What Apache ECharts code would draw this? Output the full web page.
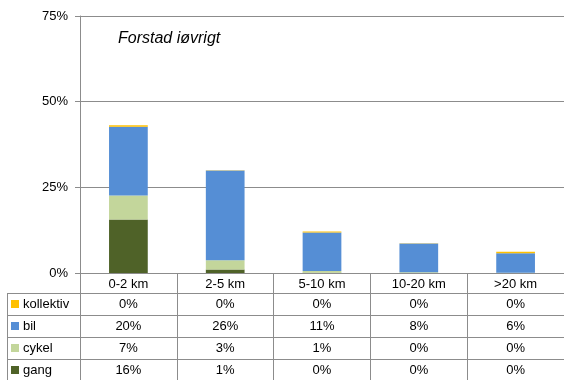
<!DOCTYPE html>
<html>
<head>
<meta charset="utf-8">
<script src="https://cdn.jsdelivr.net/npm/echarts@6/dist/echarts.min.js"></script>
<style>
  html, body { margin: 0; padding: 0; background: #fff; }
  #chart { width: 564px; height: 380px; }
</style>
</head>
<body>
<div id="chart"></div>
<script>
// Trip distance bands
const categories = ['0-2 km', '2-5 km', '5-10 km', '10-20 km', '>20 km'];

// Mode shares (percent of trips)
const gang      = [15.6, 1.0, 0.1, 0.0, 0.0];
const cykel     = [7.0, 2.7, 0.5, 0.2, 0.1];
const bil       = [20.1, 26.2, 11.2, 8.4, 5.7];
const kollektiv = [0.4, 0.1, 0.3, 0.1, 0.4];

// Value axis ticks
const yTicks = [0, 25, 50, 75];

const colors = {
  kollektiv: '#ffc000',
  bil: '#558ed5',
  cykel: '#c3d69b',
  gang: '#4f6228'
};

const FONT = 'Liberation Sans, Arial, sans-serif';
const GRID_LEFT = 80, GRID_TOP = 16, GRID_H = 257, GRID_W = 487;
const LINE = '#8c8c8c';

// Table rows below the plot, top to bottom
const tableRows = [
  { name: 'kollektiv', values: kollektiv },
  { name: 'bil', values: bil },
  { name: 'cykel', values: cykel },
  { name: 'gang', values: gang }
];
const rowOffsets = [20, 42, 64, 86];

const pct = v => Math.round(v) + '%';

const chart = echarts.init(document.getElementById('chart'), null, { renderer: 'canvas' });

const xAxes = [{
  type: 'category',
  data: categories,
  gridIndex: 0,
  position: 'bottom',
  axisLine: { show: true, lineStyle: { color: LINE, width: 1 } },
  axisTick: { show: true, interval: 0, alignWithLabel: false, length: 108, lineStyle: { color: LINE } },
  axisLabel: { interval: 0, margin: 5, fontFamily: FONT, fontSize: 13, color: '#000' },
  splitLine: { show: false }
}];
tableRows.forEach((row, r) => {
  xAxes.push({
    type: 'category',
    data: categories,
    gridIndex: 0,
    position: 'bottom',
    offset: rowOffsets[r],
    axisLine: { show: true, lineStyle: { color: LINE, width: 1 } },
    axisTick: { show: false },
    axisLabel: {
      interval: 0, margin: 5, fontFamily: FONT, fontSize: 13, color: '#000',
      formatter: (val, idx) => pct(row.values[idx])
    },
    splitLine: { show: false }
  });
});

// Left column of the table: horizontal rules and outer edge
const graphics = [];
rowOffsets.forEach(off => {
  const y = GRID_TOP + GRID_H + off + 0.5;
  graphics.push({ type: 'line', shape: { x1: 7, y1: y, x2: GRID_LEFT, y2: y }, style: { stroke: LINE, lineWidth: 1 }, silent: true });
});
graphics.push({ type: 'line', shape: { x1: 7.5, y1: GRID_TOP + GRID_H + rowOffsets[0], x2: 7.5, y2: 380 }, style: { stroke: LINE, lineWidth: 1 }, silent: true });

const seriesOrder = [
  { name: 'gang', data: gang },
  { name: 'cykel', data: cykel },
  { name: 'bil', data: bil },
  { name: 'kollektiv', data: kollektiv }
];

chart.setOption({
  animation: false,
  backgroundColor: '#fff',
  title: {
    text: 'Forstad iøvrigt',
    left: 118, top: 31,
    padding: 0,
    textStyle: { fontFamily: FONT, fontSize: 16, fontStyle: 'italic', fontWeight: 'normal', color: '#000' }
  },
  legend: {
    data: ['kollektiv', 'bil', 'cykel', 'gang'],
    orient: 'vertical',
    left: 11, top: 297,
    padding: 0,
    itemGap: 8,
    itemWidth: 8, itemHeight: 8,
    icon: 'rect',
    selectedMode: false,
    textStyle: { fontFamily: FONT, fontSize: 13, color: '#000', lineHeight: 14, padding: [0, 0, 0, -1] }
  },
  grid: { left: GRID_LEFT, top: GRID_TOP, width: GRID_W, height: GRID_H, containLabel: false },
  xAxis: xAxes,
  yAxis: {
    type: 'value',
    min: yTicks[0], max: yTicks[yTicks.length - 1], interval: yTicks[1] - yTicks[0],
    axisLine: { show: true, lineStyle: { color: LINE } },
    axisTick: { show: true, length: 5, lineStyle: { color: LINE } },
    axisLabel: { margin: 12, fontFamily: FONT, fontSize: 13, color: '#000', formatter: '{value}%' },
    splitLine: { show: true, lineStyle: { color: LINE, width: 1 } }
  },
  graphic: graphics,
  series: seriesOrder.map(s => ({
    name: s.name,
    type: 'bar',
    stack: 'share',
    data: s.data,
    barWidth: '40%',
    itemStyle: { color: colors[s.name] },
    emphasis: { disabled: true }
  }))
});
</script>
</body>
</html>
